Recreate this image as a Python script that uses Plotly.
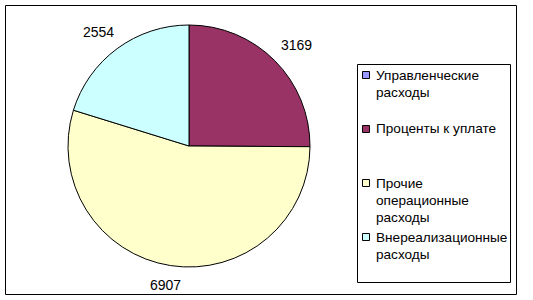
import math
import plotly.graph_objects as go

categories = ["Управленческие<br>расходы", "Проценты к уплате",
              "Прочие<br>операционные<br>расходы", "Внереализационные<br>расходы"]
values = [0, 3169, 6907, 2554]
colors = ["#9999FF", "#993366", "#FFFFCC", "#CCFFFF"]

W, H = 533, 300
cx, cy, r = 189, 146, 121
FONT = "Liberation Sans, Arial, sans-serif"
FS = 14
FS_LEG = 13.6

def px(x):
    return x / W

def py(y):
    return 1 - y / H

fig = go.Figure()
fig.add_trace(go.Pie(
    labels=[c.replace("<br>", " ") for c in categories],
    values=values,
    sort=False,
    direction="clockwise",
    rotation=0,
    textinfo="none",
    marker=dict(colors=colors, line=dict(color="#000000", width=1)),
    domain=dict(x=[px(cx - r), px(cx + r)], y=[py(cy + r), py(cy - r)]),
    showlegend=False,
    hoverinfo="label+value",
))

annotations = []
total = sum(values)
cum = 0
for v in values:
    if v > 0:
        a = math.radians((cum + v / 2) / total * 360)
        s, c = math.sin(a), math.cos(a)
        sx = max(-1, min(1, s / 0.7))
        sy = max(-1, min(1, c / 0.7))
        x = cx + r * s + s * 8 + 16 * sx
        y = cy - r * c - c * 15 - 5 * sy
        annotations.append(dict(x=px(x), y=py(y), xref="paper", yref="paper",
                                text=str(v), showarrow=False,
                                xanchor="center", yanchor="middle",
                                font=dict(family=FONT, size=FS, color="#000000")))
    cum += v

shapes = [
    dict(type="rect", xref="paper", yref="paper", x0=px(5.5), x1=px(516.5),
         y0=py(294.5), y1=py(5.5), line=dict(color="#000000", width=1)),
    dict(type="rect", xref="paper", yref="paper", x0=px(357.5), x1=px(510.5),
         y0=py(282.5), y1=py(64.5), line=dict(color="#000000", width=1),
         fillcolor="#FFFFFF"),
]

legend_y = [75, 129, 183, 237]
line_h = 17.3
for cat, col, ly in zip(categories, colors, legend_y):
    shapes.append(dict(type="rect", xref="paper", yref="paper",
                       x0=px(362.5), x1=px(369.5), y0=py(ly + 3.5), y1=py(ly - 3.5),
                       line=dict(color="#000000", width=1), fillcolor=col))
    for k, part in enumerate(cat.split("<br>")):
        annotations.append(dict(x=px(374.5), y=py(ly + k * line_h), xref="paper", yref="paper",
                                text=part, showarrow=False, align="left",
                                xanchor="left", yanchor="middle", borderpad=0,
                                font=dict(family=FONT, size=FS_LEG, color="#000000")))

fig.update_layout(
    width=W, height=H,
    margin=dict(l=0, r=0, t=0, b=0),
    paper_bgcolor="#FFFFFF",
    plot_bgcolor="#FFFFFF",
    shapes=shapes,
    annotations=annotations,
    showlegend=False,
)

fig.write_html("out.html")
